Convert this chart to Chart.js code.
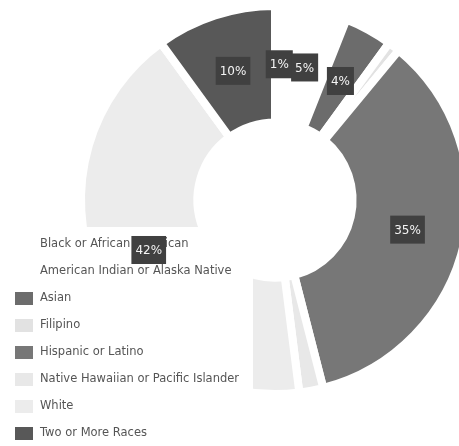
<!DOCTYPE html>
<html lang="en">
<head>
    <meta charset="utf-8">
    <title>Race / Ethnicity</title>
    <script src="https://cdn.jsdelivr.net/npm/chart.js"></script>
    <style>
        html, body {
            margin: 0;
            padding: 0;
            background: #ffffff;
            overflow: hidden;
        }

        #chart-box {
            position: relative;
            width: 550px;
            height: 446px;
        }
    </style>
</head>
<body>

<div id="chart-box">
    <canvas id="raceChart"></canvas>
</div>

<script>
    // data
    const categories = [
        'Black or African American',
        'American Indian or Alaska Native',
        'Asian',
        'Filipino',
        'Hispanic or Latino',
        'Native Hawaiian or Pacific Islander',
        'White',
        'Two or More Races'
    ];
    const shares = [1, 5, 4, 1, 35, 2, 42, 10];
    const shareLabels = ['1%', '5%', '4%', '', '35%', '', '42%', '10%'];
    const sliceColors = ['#ffffff', '#ffffff', '#6c6c6c', '#e2e2e2', '#777777', '#e8e8e8', '#ececec', '#585858'];

    // legend sits over the lower left of the ring, on a white card
    const overlayLegend = {
        id: 'overlayLegend',
        afterDatasetsDraw(chart) {
            const ctx = chart.ctx;
            const colors = chart.data.datasets[0].backgroundColor;
            ctx.save();
            ctx.fillStyle = '#ffffff';
            ctx.fillRect(0, 227, 253, 219);
            ctx.font = '11.5px "DejaVu Sans", sans-serif';
            ctx.textBaseline = 'middle';
            chart.data.labels.forEach((name, i) => {
                const y = 244 + i * 27;
                ctx.fillStyle = colors[i];
                ctx.fillRect(15, y - 6, 18, 13);
                ctx.fillStyle = '#555555';
                ctx.fillText(name, 40, y);
            });
            ctx.restore();
        },
        afterDraw(chart) {
            const ctx = chart.ctx;
            const meta = chart.getDatasetMeta(0);
            ctx.save();
            ctx.font = '12px "DejaVu Sans", sans-serif';
            ctx.textAlign = 'center';
            ctx.textBaseline = 'middle';
            meta.data.forEach((arc, i) => {
                const text = shareLabels[i];
                if (!text) return;
                const pos = arc.tooltipPosition();
                const w = ctx.measureText(text).width + 8;
                const h = 28;
                ctx.fillStyle = '#404040';
                ctx.fillRect(pos.x - w / 2, pos.y - h / 2, w, h);
                ctx.fillStyle = '#f4f4f4';
                ctx.fillText(text, pos.x, pos.y + 1);
            });
            ctx.restore();
        }
    };

    const ctx = document.getElementById('raceChart').getContext('2d');
    const raceChart = new Chart(ctx, {
        type: 'doughnut',
        data: {
            labels: categories,
            datasets: [{
                data: shares,
                backgroundColor: sliceColors,
                borderColor: '#ffffff',
                borderWidth: 8
            }]
        },
        options: {
            responsive: true,
            maintainAspectRatio: false,
            animation: false,
            cutout: '40%',
            layout: {
                padding: { top: 2, bottom: 48, left: 0, right: 0 }
            },
            plugins: {
                legend: { display: false },
                tooltip: { enabled: false }
            }
        },
        plugins: [overlayLegend]
    });
</script>
</body>
</html>
